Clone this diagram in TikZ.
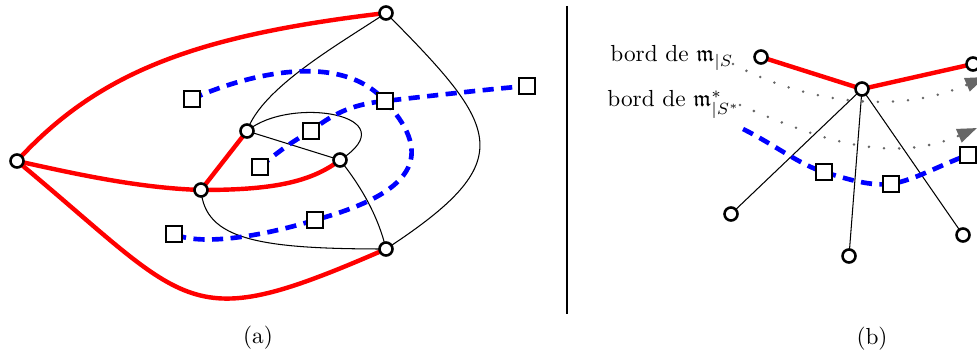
\documentclass[tikz,border=0pt]{standalone}
\usepackage{amssymb}
\usetikzlibrary{arrows.meta,backgrounds}
\begin{document}
\begin{tikzpicture}[x=0.43pt,y=-0.43pt,
  vtx/.style={circle,draw,fill=white,line width=1.1pt,minimum size=5.6pt,inner sep=0pt},
  dvtx/.style={rectangle,draw,fill=white,line width=0.9pt,minimum size=7pt,inner sep=0pt},
  redge/.style={red,line width=1.9pt},
  bedge/.style={blue,line width=2pt,dash pattern=on 4.8pt off 3.2pt},
  tedge/.style={black,line width=0.45pt},
  garrow/.style={black!60,line width=1.2pt,line cap=round,dash pattern=on 0pt off 6.5pt,-{Triangle[length=8.5pt,width=6pt]}},
  lbl/.style={inner sep=0pt,font=\normalsize}]
\useasboundingbox (0,0) rectangle (977,358);
% ---------- panel (a) ----------
\node[vtx] (L) at (17,161) {};
\node[vtx] (T) at (386,13) {};
\node[vtx] (A) at (247,131) {};
\node[vtx] (B) at (340,160) {};
\node[vtx] (C) at (201,190) {};
\node[vtx] (D) at (386,249) {};
\node[dvtx] (s1) at (192,99) {};
\node[dvtx] (s2) at (385,101) {};
\node[dvtx] (s3) at (527,86) {};
\node[dvtx] (s4) at (311,131) {};
\node[dvtx] (s5) at (260,167) {};
\node[dvtx] (s6) at (315,220) {};
\node[dvtx] (s7) at (174,234) {};
\begin{scope}[on background layer]
  \draw[tedge] (T.center) .. controls (336,46) and (262,88) .. (A.center);
  \draw[tedge] (T.center) .. controls (500,128) and (522,160) .. (D.center);
  \draw[tedge] (A.center) -- (B.center);
  \draw[tedge] (A.center) .. controls (290,95) and (410,115) .. (B.center);
  \draw[tedge] (C.center) .. controls (205,240) and (260,249) .. (D.center);
  \draw[tedge] (B.center) .. controls (360,185) and (378,215) .. (D.center);
  \draw[redge] (L.center) .. controls (100,70) and (200,35) .. (T.center);
  \draw[redge] (L.center) .. controls (80,175) and (140,188) .. (C.center);
  \draw[redge] (C.center) -- (A.center);
  \draw[redge] (C.center) .. controls (270,190) and (310,183) .. (B.center);
  \draw[redge] (L.center) .. controls (194,308) and (184,337) .. (D.center);
  \draw[bedge] (s1.center) .. controls (245,75) and (340,50) .. (s2.center)
     .. controls (430,150) and (425,190) .. (s6.center)
     .. controls (260,237) and (200,246) .. (s7.center);
  \draw[bedge] (s5.center) .. controls (280,150) and (295,140) .. (s4.center)
     .. controls (335,112) and (355,104) .. (s2.center)
     .. controls (430,96) and (480,90) .. (s3.center);
\end{scope}
\node[lbl] (capa) at (258,338) {(a)};
% ---------- separator ----------
\coordinate (septop) at (567,6);
\coordinate (sepbot) at (567,314);
\draw[line width=0.6pt] (septop) -- (sepbot);
% ---------- panel (b) ----------
\node[vtx] (v1) at (761,57) {};
\node[vtx] (c) at (862,89) {};
\node[vtx] (v2) at (973,64) {};
\node[vtx] (b1) at (731,214) {};
\node[vtx] (b2) at (849,256) {};
\node[vtx] (b3) at (963,235) {};
\node[dvtx] (q1) at (824,172) {};
\node[dvtx] (q2) at (891,184) {};
\node[dvtx] (q3) at (968,155) {};
\coordinate (bs) at (743,129);
\coordinate (g1s) at (733,64);
\coordinate (g1e) at (985,77);
\coordinate (g2s) at (740,105);
\coordinate (g2e) at (977,128);
\node[lbl,anchor=base west] (l1) at (610,62) {bord de $\mathfrak{m}_{|S}$};
\node[lbl,anchor=base west] (l2) at (607,107) {bord de $\mathfrak{m}^*_{|S^*}$};
\begin{scope}[on background layer]
  \draw[tedge] (c.center) -- (b1.center);
  \draw[tedge] (c.center) -- (b2.center);
  \draw[tedge] (c.center) -- (b3.center);
  \draw[redge] (v1.center) -- (c.center) -- (v2.center);
  \draw[garrow] (g1s) .. controls (790,95) and (885,120) .. (g1e);
  \draw[garrow] (g2s) .. controls (820,140) and (890,165) .. (g2e);
  \draw[bedge] (bs) .. controls (775,145) and (800,165) .. (q1.center)
     .. controls (850,180) and (870,186) .. (q2.center)
     .. controls (915,180) and (940,165) .. (q3.center);
\end{scope}
\node[lbl] (capb) at (872,339) {(b)};
\end{tikzpicture}
\end{document}
